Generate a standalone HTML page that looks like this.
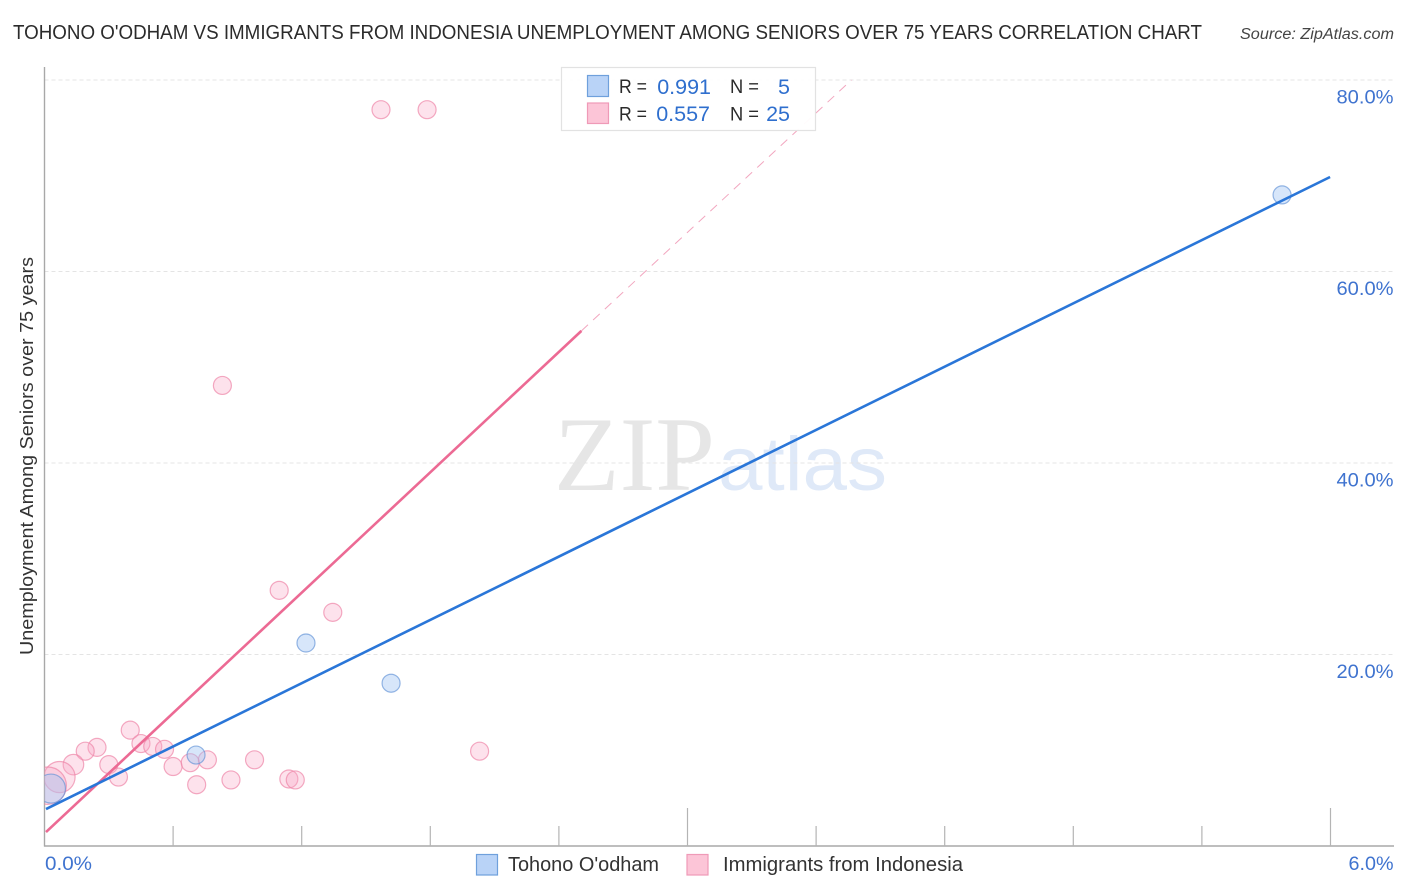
<!DOCTYPE html>
<html lang="en">
<head>
<meta charset="utf-8">
<title>Tohono O'odham vs Immigrants from Indonesia Correlation Chart</title>
<style>
html,body{margin:0;padding:0;background:#fff;width:1406px;height:892px;overflow:hidden}
svg{display:block;font-family:"Liberation Sans",sans-serif}
</style>
</head>
<body>
<svg id="chart" width="1406" height="892" viewBox="0 0 1406 892">
  <defs><clipPath id="plot-clip"><rect x="44.5" y="60" width="1350" height="786"/></clipPath></defs>

  <text x="13" y="39" font-size="20" fill="#2b2b2b" textLength="1189" lengthAdjust="spacingAndGlyphs">TOHONO O'ODHAM VS IMMIGRANTS FROM INDONESIA UNEMPLOYMENT AMONG SENIORS OVER 75 YEARS CORRELATION CHART</text>
  <text x="1394" y="39" font-size="15.5" font-style="italic" fill="#444" text-anchor="end" textLength="154" lengthAdjust="spacingAndGlyphs">Source: ZipAtlas.com</text>

  <g>
    <text x="554" y="490" font-family="'Liberation Serif',serif" font-size="106" fill="#e6e6e6" textLength="161" lengthAdjust="spacingAndGlyphs">ZIP</text>
    <text x="718" y="490" font-size="76" fill="#dfe9f8" textLength="169" lengthAdjust="spacingAndGlyphs">atlas</text>
  </g>

  <g id="grid"></g>
  <g id="axes"></g>
  <g id="marks" clip-path="url(#plot-clip)"></g>
  <g id="trends"></g>

  <text transform="translate(33,456) rotate(-90)" font-size="18.5" fill="#333" text-anchor="middle" textLength="398" lengthAdjust="spacingAndGlyphs">Unemployment Among Seniors over 75 years</text>

  <g>
    <rect x="561.5" y="67.5" width="254" height="63" fill="#fff" fill-opacity="0.95" stroke="#e2e2e2" stroke-width="1.2"/>
    <rect x="587.5" y="75.5" width="21" height="21" fill="#b9d3f7" stroke="#6fa0dc" stroke-width="1.2"/>
    <rect x="587.5" y="103" width="21" height="20.5" fill="#fcc5d7" stroke="#ef9ab7" stroke-width="1.2"/>
    <text x="619" y="93" font-size="19.5" fill="#2b2b2b" textLength="28" lengthAdjust="spacingAndGlyphs">R =</text>
    <text x="711" y="94" font-size="21.5" fill="#2f6fce" text-anchor="end">0.991</text>
    <text x="730" y="93" font-size="19.5" fill="#2b2b2b" textLength="29" lengthAdjust="spacingAndGlyphs">N =</text>
    <text x="790" y="94" font-size="21.5" fill="#2f6fce" text-anchor="end">5</text>
    <text x="619" y="120.5" font-size="19.5" fill="#2b2b2b" textLength="28" lengthAdjust="spacingAndGlyphs">R =</text>
    <text x="710" y="121" font-size="21.5" fill="#2f6fce" text-anchor="end">0.557</text>
    <text x="730" y="120.5" font-size="19.5" fill="#2b2b2b" textLength="29" lengthAdjust="spacingAndGlyphs">N =</text>
    <text x="790" y="121" font-size="21.5" fill="#2f6fce" text-anchor="end">25</text>
  </g>

  <g>
    <rect x="476.5" y="854.5" width="21" height="20.5" fill="#b9d3f7" stroke="#6fa0dc" stroke-width="1.2"/>
    <text x="508" y="871" font-size="20" fill="#333" textLength="151" lengthAdjust="spacingAndGlyphs">Tohono O'odham</text>
    <rect x="687" y="854.5" width="21" height="20.5" fill="#fcc5d7" stroke="#ef9ab7" stroke-width="1.2"/>
    <text x="723" y="871" font-size="20" fill="#333" textLength="240" lengthAdjust="spacingAndGlyphs">Immigrants from Indonesia</text>
  </g>
</svg>

<script>
// ---- chart data (percent values) ----
const tohonoX = [0.03, 0.707, 1.22, 1.617, 5.774];
const tohonoY = [6.0, 9.5, 21.2, 17.0, 68.0];
const tohonoWeight = [2.6, 1, 1, 1, 1];

const indonesiaX = [1.57, 1.785, 0.83, 1.095, 1.345, 2.03, 0.40, 0.245, 0.19, 0.135, 0.07, 0.015, 0.45, 0.505, 0.56, 0.30, 0.345, 0.60, 0.68, 0.76, 0.71, 0.87, 0.98, 1.14, 1.17];
const indonesiaY = [76.9, 76.9, 48.1, 26.7, 24.4, 9.9, 12.1, 10.3, 9.9, 8.5, 7.2, 6.3, 10.7, 10.4, 10.1, 8.5, 7.2, 8.3, 8.7, 9.0, 6.4, 6.9, 9.0, 7.0, 6.9];
const indonesiaWeight = [1, 1, 1, 1, 1, 1, 1, 1, 1, 1.3, 3, 4.3, 1, 1, 1, 1, 1, 1, 1, 1, 1, 1, 1, 1, 1];

const tohonoTrendX = [0.007, 5.998];
const tohonoTrendY = [3.86, 69.87];
const indonesiaTrendX = [0.007, 2.505];
const indonesiaTrendY = [1.46, 53.8];
const indonesiaExtensionX = [2.505, 3.765];
const indonesiaExtensionY = [53.8, 80.0];

const yTickValues = [20, 40, 60, 80];
const yTickLabels = ["20.0%", "40.0%", "60.0%", "80.0%"];
const xTickValues = [0.6, 1.2, 1.8, 2.4, 3.0, 3.6, 4.2, 4.8, 5.4, 6.0];
const xMajorTicks = [3.0, 6.0];
const xEndValues = [0, 6];
const xEndLabels = ["0.0%", "6.0%"];

// ---- axis functions ----
const xScale = v => 44.5 + v * (1286 / 6);
const yScale = v => 846 - v * (766 / 80);
const rScale = w => 9 * Math.sqrt(w);

const NS = "http://www.w3.org/2000/svg";
function mk(parent, tag, attrs, text) {
  const el = document.createElementNS(NS, tag);
  for (const k in attrs) el.setAttribute(k, attrs[k]);
  if (text !== undefined) el.textContent = text;
  parent.appendChild(el);
  return el;
}

const grid = document.getElementById("grid");
const axes = document.getElementById("axes");
const marks = document.getElementById("marks");
const trends = document.getElementById("trends");

// gridlines and y tick labels
yTickValues.forEach((v, i) => {
  const line = mk(grid, "line", {x1: 44.5, x2: 1394, y1: yScale(v), y2: yScale(v), stroke: "#e4e4e4", "stroke-width": 1, "stroke-dasharray": "4 3"});
  
  
  const label = mk(axes, "text", {x: 1393.5, y: yScale(v) + 23.5, "font-size": 19.5, fill: "#3f73cf", "text-anchor": "end", textLength: 57, lengthAdjust: "spacingAndGlyphs"}, yTickLabels[i]);
  
  
});

// axis lines
const yAxis = mk(axes, "line", {x1: 44.5, x2: 44.5, y1: 67, y2: 846.5, stroke: "#a8a8a8", "stroke-width": 1.4});


const xAxis = mk(axes, "line", {x1: 44, x2: 1394, y1: 846, y2: 846, stroke: "#a8a8a8", "stroke-width": 1.4});



// x ticks
xTickValues.forEach(v => {
  const top = xMajorTicks.includes(v) ? 808 : 826;
  const tick = mk(axes, "line", {x1: xScale(v), x2: xScale(v), y1: top, y2: 846, stroke: "#b4b4b4", "stroke-width": 1.2});
  
  
});
xEndValues.forEach((v, i) => {
  const attrs = v === 0
    ? {x: xScale(v) + 0.5, y: 870, "font-size": 19.5, fill: "#3f73cf", textLength: 47, lengthAdjust: "spacingAndGlyphs"}
    : {x: 1393.5, y: 870, "font-size": 19.5, fill: "#3f73cf", "text-anchor": "end", textLength: 45, lengthAdjust: "spacingAndGlyphs"};
  const label = mk(axes, "text", attrs, xEndLabels[i]);
  
  
});

// points
indonesiaX.forEach((x, i) => {
  const dot = mk(marks, "circle", {cx: xScale(x), cy: yScale(indonesiaY[i]), r: rScale(indonesiaWeight[i]), fill: "#f9a8c4", "fill-opacity": 0.33, stroke: "#ee86a8", "stroke-opacity": 0.7, "stroke-width": 1.2});
  
  
});
tohonoX.forEach((x, i) => {
  const dot = mk(marks, "circle", {cx: xScale(x), cy: yScale(tohonoY[i]), r: rScale(tohonoWeight[i]), fill: "#9fc3f2", "fill-opacity": 0.42, stroke: "#5f90d6", "stroke-opacity": 0.65, "stroke-width": 1.2});
  
  
});

// trend lines
const pinkExt = mk(trends, "line", {x1: xScale(indonesiaExtensionX[0]), y1: yScale(indonesiaExtensionY[0]), x2: xScale(indonesiaExtensionX[1]), y2: yScale(indonesiaExtensionY[1]), stroke: "#f2a6bf", "stroke-width": 1, "stroke-dasharray": "9 7"});


const pinkLine = mk(trends, "line", {x1: xScale(indonesiaTrendX[0]), y1: yScale(indonesiaTrendY[0]), x2: xScale(indonesiaTrendX[1]), y2: yScale(indonesiaTrendY[1]), stroke: "#ec6a94", "stroke-width": 2.6});


const blueLine = mk(trends, "line", {x1: xScale(tohonoTrendX[0]), y1: yScale(tohonoTrendY[0]), x2: xScale(tohonoTrendX[1]), y2: yScale(tohonoTrendY[1]), stroke: "#2a76d8", "stroke-width": 2.6});


</script>
</body>
</html>
